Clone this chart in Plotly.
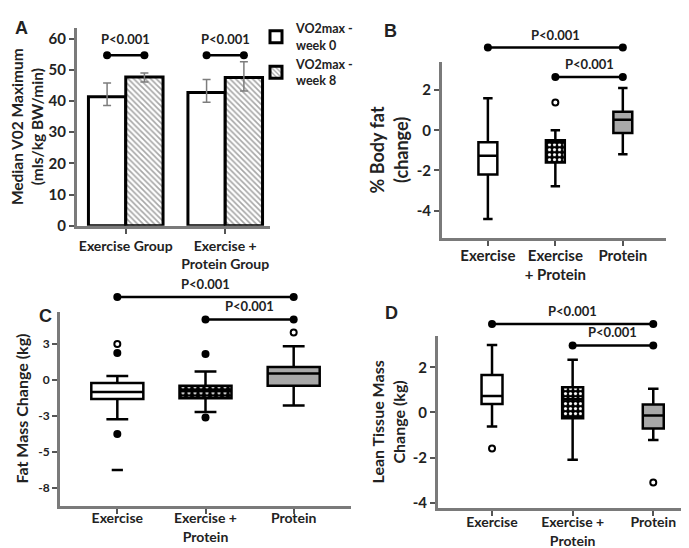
import plotly.graph_objects as go

W, H = 689, 548
FONT = "Lato"
TXT = "#222222"

# ---------------- data ----------------
# Panel A: median VO2max (bars) with error bars
A_GROUPS = ["Exercise Group", "Exercise + Protein Group"]
A_TICK_LABELS = ["Exercise Group", "Exercise +<br>Protein Group"]
A_SERIES = ["VO2max -<br>week 0", "VO2max -<br>week 8"]
A_WEEK0 = [41.4, 42.7]
A_WEEK0_UP = [45.8, 46.9]
A_WEEK0_LOW = [38.6, 39.6]
A_WEEK8 = [47.7, 47.5]
A_WEEK8_UP = [49.0, 52.6]
A_WEEK8_LOW = [46.1, 43.2]
A_SIG_Y = [54.7, 54.7]
A_Y_TICKS = [0, 10, 20, 30, 40, 50, 60]

GROUPS = ["Exercise", "Exercise + Protein", "Protein"]
P_LABEL = "P<0.001"

# Panel B: % body fat change
B_TICK_LABELS = ["Exercise", "Exercise<br>+ Protein", "Protein"]
B_LOW = [-4.42, -2.79, -1.19]
B_Q1 = [-2.20, -1.60, -0.13]
B_MED = [-1.27, -0.60, 0.53]
B_Q3 = [-0.59, -0.49, 0.93]
B_HIGH = [1.59, 0.00, 2.11]
B_OUT_OPEN = [[], [1.39], []]
B_OUT_FILLED = [[], [], []]
B_OUT_DASH = [[], [], []]
B_SIG_FROM = [0, 1]
B_SIG_TO = [2, 2]
B_SIG_Y = [4.12, 2.65]
B_Y_TICKS = [-4, -2, 0, 2]
B_Y_TICK_LABELS = ["-4", "-2", "0", "2"]

# Panel C: fat mass change (kg)
C_TICK_LABELS = ["Exercise", "Exercise +<br>Protein", "Protein"]
C_LOW = [-2.74, -2.24, -1.78]
C_Q1 = [-1.33, -1.28, -0.41]
C_MED = [-0.85, -0.80, 0.43]
C_Q3 = [-0.23, -0.41, 0.89]
C_HIGH = [0.27, 0.57, 2.33]
C_OUT_OPEN = [[2.49], [], [3.29]]
C_OUT_FILLED = [[1.87, -3.77], [1.80, -2.63], []]
C_OUT_DASH = [[-6.28], [], []]
C_SIG_FROM = [0, 1]
C_SIG_TO = [2, 2]
C_SIG_Y = [5.75, 4.20]
C_Y_TICKS = [2.5, 0, -2.5, -5, -7.5]
C_Y_TICK_LABELS = ["3", "0", "-3", "-5", "-8"]

# Panel D: lean tissue mass change (kg)
D_TICK_LABELS = ["Exercise", "Exercise +<br>Protein", "Protein"]
D_LOW = [-0.62, -2.10, -1.22]
D_Q1 = [0.37, -0.26, -0.71]
D_MED = [0.73, 0.58, -0.14]
D_Q3 = [1.66, 1.12, 0.35]
D_HIGH = [2.99, 2.33, 1.05]
D_OUT_OPEN = [[-1.60], [], [-3.11]]
D_OUT_FILLED = [[], [], []]
D_OUT_DASH = [[], [], []]
D_SIG_FROM = [0, 1]
D_SIG_TO = [2, 2]
D_SIG_Y = [3.92, 2.97]
D_Y_TICKS = [-4, -2, 0, 2]
D_Y_TICK_LABELS = ["-4", "-2", "0", "2"]

# ---------------- styling / layout helpers ----------------
BOX_FILLS = ["white", None, "#a8a8a8"]   # None -> patterned
AXIS_LINE = "#7a7a7a"


def dom_x(l, r):
    return [l / W, r / W]


def dom_y(top, bottom):
    return [1 - bottom / H, 1 - top / H]


def ext_range(rng, top, bottom, ext_top):
    lo, hi = rng
    per_px = (hi - lo) / (bottom - top)
    return [lo, lo + per_px * (bottom - ext_top)]


def font(size, weight="bold", family=FONT, color=TXT):
    return dict(family=family, size=size, color=color, weight=weight)


def axis_common():
    return dict(type="linear", showline=True, linecolor=AXIS_LINE, linewidth=3,
                ticks="outside", ticklen=5, tickwidth=2, tickcolor="#555555",
                showgrid=False, zeroline=False, mirror=False, fixedrange=True)


fig = go.Figure()
layout = dict(width=W, height=H, margin=dict(l=0, r=0, t=0, b=0),
              paper_bgcolor="white", plot_bgcolor="rgba(0,0,0,0)",
              font=font(13), barmode="group", bargap=0.25, bargroupgap=0,
              boxmode="overlay", showlegend=True)
annotations = []

# ---------------- Panel A ----------------
A_PX = (69, 262, 20, 221)
A_XR = [-0.49, 1.45]
A_YR = [0, 63.5]
a_pos = list(range(len(A_GROUPS)))
fig.add_trace(go.Bar(
    x=a_pos, y=A_WEEK0, name=A_SERIES[0], xaxis="x", yaxis="y",
    marker=dict(color="white", line=dict(color="black", width=3)),
    error_y=dict(type="data", symmetric=False,
                 array=[u - v for u, v in zip(A_WEEK0_UP, A_WEEK0)],
                 arrayminus=[v - l for v, l in zip(A_WEEK0, A_WEEK0_LOW)],
                 color="#7d7d7d", thickness=1.5, width=4)))
fig.add_trace(go.Bar(
    x=a_pos, y=A_WEEK8, name=A_SERIES[1], xaxis="x", yaxis="y",
    marker=dict(color="white", line=dict(color="black", width=3),
                pattern=dict(shape="\\", fgcolor="#4d4d4d", bgcolor="white",
                             size=4, solidity=0.4, fillmode="overlay")),
    error_y=dict(type="data", symmetric=False,
                 array=[u - v for u, v in zip(A_WEEK8_UP, A_WEEK8)],
                 arrayminus=[v - l for v, l in zip(A_WEEK8, A_WEEK8_LOW)],
                 color="#7d7d7d", thickness=1.5, width=4)))
half = (1 - layout["bargap"]) / 4
for i, yv in zip(a_pos, A_SIG_Y):
    fig.add_trace(go.Scatter(
        x=[i - half, i + half], y=[yv, yv], mode="lines+markers",
        xaxis="x", yaxis="y", showlegend=False, hoverinfo="skip",
        line=dict(color="black", width=2.5), marker=dict(size=8, color="black")))
    annotations.append(dict(x=i, y=yv, xref="x", yref="y", text=P_LABEL,
                            showarrow=False, yanchor="bottom", yshift=6,
                            font=font(13)))

layout["xaxis"] = dict(**axis_common(), domain=dom_x(A_PX[0], A_PX[1]), range=A_XR,
                       anchor="y", tickvals=a_pos, ticktext=A_TICK_LABELS,
                       tickfont=font(14))
layout["yaxis"] = dict(**axis_common(), domain=dom_y(A_PX[2], A_PX[3]), range=A_YR,
                       anchor="x", tickvals=A_Y_TICKS, tickfont=font(15),
                       title=dict(text="Median V02 Maximum<br>(mls/kg BW/min)",
                                  font=font(15.5), standoff=4))


# ---------------- box panels ----------------
def box_panel(n, on, px, ext_top, xr, yr, tick_labels, yticks, ytick_labels,
              low, q1, med, q3, high, out_open, out_filled, out_dash,
              sig_from, sig_to, sig_y, bw, ww, ytitle, ytitle_size,
              xtick_size, xtick_shift, ytick_size, standoff, pattern):
    xa, ya = f"x{n}", f"y{n}"
    xo, yo = f"x{on}", f"y{on}"
    pos = list(range(len(GROUPS)))
    for i, g in enumerate(GROUPS):
        if BOX_FILLS[i] is None:
            fig.add_trace(go.Bar(
                x=[pos[i]], base=[q1[i]], y=[q3[i] - q1[i]], width=bw,
                xaxis=xa, yaxis=ya, showlegend=False, hoverinfo="skip",
                marker=dict(color="black", line=dict(width=0),
                            pattern=pattern)))
        fig.add_trace(go.Box(
            x=[pos[i]], q1=[q1[i]], median=[med[i]], q3=[q3[i]],
            lowerfence=[low[i]], upperfence=[high[i]], name=g,
            orientation="v",
            xaxis=xa, yaxis=ya, showlegend=False, boxpoints=False,
            width=bw, whiskerwidth=ww,
            fillcolor=BOX_FILLS[i] if BOX_FILLS[i] else "rgba(0,0,0,0)",
            line=dict(color="black", width=2.5)))
        if out_open[i]:
            fig.add_trace(go.Scatter(
                x=[pos[i]] * len(out_open[i]), y=out_open[i], mode="markers",
                xaxis=xa, yaxis=ya, showlegend=False,
                marker=dict(symbol="circle-open", size=6, color="black",
                            line=dict(color="black", width=2))))
        if out_filled[i]:
            fig.add_trace(go.Scatter(
                x=[pos[i]] * len(out_filled[i]), y=out_filled[i], mode="markers",
                xaxis=xa, yaxis=ya, showlegend=False,
                marker=dict(symbol="circle", size=8, color="black")))
        if out_dash[i]:
            fig.add_trace(go.Scatter(
                x=[pos[i]] * len(out_dash[i]), y=out_dash[i], mode="markers",
                xaxis=xa, yaxis=ya, showlegend=False,
                marker=dict(symbol="line-ew-open", size=8, color="black",
                            line=dict(color="black", width=2.5))))
    for f, t, yv in zip(sig_from, sig_to, sig_y):
        fig.add_trace(go.Scatter(
            x=[pos[f], pos[t]], y=[yv, yv], mode="lines+markers",
            xaxis=xo, yaxis=yo, showlegend=False, hoverinfo="skip",
            cliponaxis=False,
            line=dict(color="black", width=2.5), marker=dict(size=8, color="black")))
        annotations.append(dict(x=(pos[f] + pos[t]) / 2, y=yv, xref=xo, yref=yo,
                                text=P_LABEL, showarrow=False, yanchor="bottom",
                                yshift=3, font=font(13)))
    l, r, top, bottom = px
    layout[f"xaxis{n}"] = dict(**axis_common(), domain=dom_x(l, r), range=xr,
                               anchor=ya, tickvals=pos, ticktext=tick_labels,
                               tickfont=font(xtick_size),
                               ticklabelstandoff=xtick_shift)
    layout[f"yaxis{n}"] = dict(**axis_common(), domain=dom_y(top, bottom), range=yr,
                               anchor=xa, tickvals=yticks, ticktext=ytick_labels,
                               tickfont=font(ytick_size),
                               title=dict(text=ytitle, font=font(ytitle_size),
                                          standoff=standoff))
    layout[f"xaxis{on}"] = dict(type="linear", domain=dom_x(l, r), range=xr,
                                visible=False, anchor=yo, fixedrange=True)
    layout[f"yaxis{on}"] = dict(type="linear", domain=dom_y(ext_top, bottom),
                                range=ext_range(yr, top, bottom, ext_top),
                                visible=False, anchor=xo, fixedrange=True)


checker = dict(shape=".", fgcolor="white", bgcolor="black", size=5,
               solidity=0.33, fillmode="replace")
dots = dict(shape=".", fgcolor="white", bgcolor="black", size=6,
            solidity=0.25, fillmode="replace")

box_panel(2, 5, (434, 658, 55, 233), 18, [-0.68, 2.64], [-5.34, 3.39],
          B_TICK_LABELS, B_Y_TICKS, B_Y_TICK_LABELS,
          B_LOW, B_Q1, B_MED, B_Q3, B_HIGH, B_OUT_OPEN, B_OUT_FILLED, B_OUT_DASH,
          B_SIG_FROM, B_SIG_TO, B_SIG_Y, 0.28, 0.5,
          "% Body fat<br>(change)", 18, 15, -3, 15, 4, checker)

box_panel(3, 6, (52, 343, 308, 505), 278, [-0.65, 2.65], [-8.75, 4.75],
          C_TICK_LABELS, C_Y_TICKS, C_Y_TICK_LABELS,
          C_LOW, C_Q1, C_MED, C_Q3, C_HIGH, C_OUT_OPEN, C_OUT_FILLED, C_OUT_DASH,
          C_SIG_FROM, C_SIG_TO, C_SIG_Y, 0.59, 0.42,
          "Fat Mass Change (kg)", 16, 14, -7, 12, 6, dots)

box_panel(4, 7, (430, 688, 333, 507), 303, [-0.67, 2.53], [-4.22, 3.38],
          D_TICK_LABELS, D_Y_TICKS, D_Y_TICK_LABELS,
          D_LOW, D_Q1, D_MED, D_Q3, D_HIGH, D_OUT_OPEN, D_OUT_FILLED, D_OUT_DASH,
          D_SIG_FROM, D_SIG_TO, D_SIG_Y, 0.26, 0.5,
          "Lean Tissue Mass<br>Change (kg)", 16, 14, -5, 15, 4, checker)

# panel letters
for letter, xp, yp in [("A", 13, 20), ("B", 382, 23), ("C", 37, 313), ("D", 383, 310)]:
    annotations.append(dict(x=xp / W, y=1 - yp / H, xref="paper", yref="paper",
                            text=letter, showarrow=False, xanchor="center",
                            yanchor="middle",
                            font=dict(family="Liberation Sans", size=18,
                                      color=TXT, weight="bold")))

layout["annotations"] = annotations
layout["legend"] = dict(x=248 / W, y=1 - 6 / H, xanchor="left", yanchor="top",
                        font=font(12.5), bgcolor="rgba(0,0,0,0)",
                        itemwidth=30, tracegroupgap=2, traceorder="normal")
fig.update_layout(**layout)
fig.write_html("out.html")
